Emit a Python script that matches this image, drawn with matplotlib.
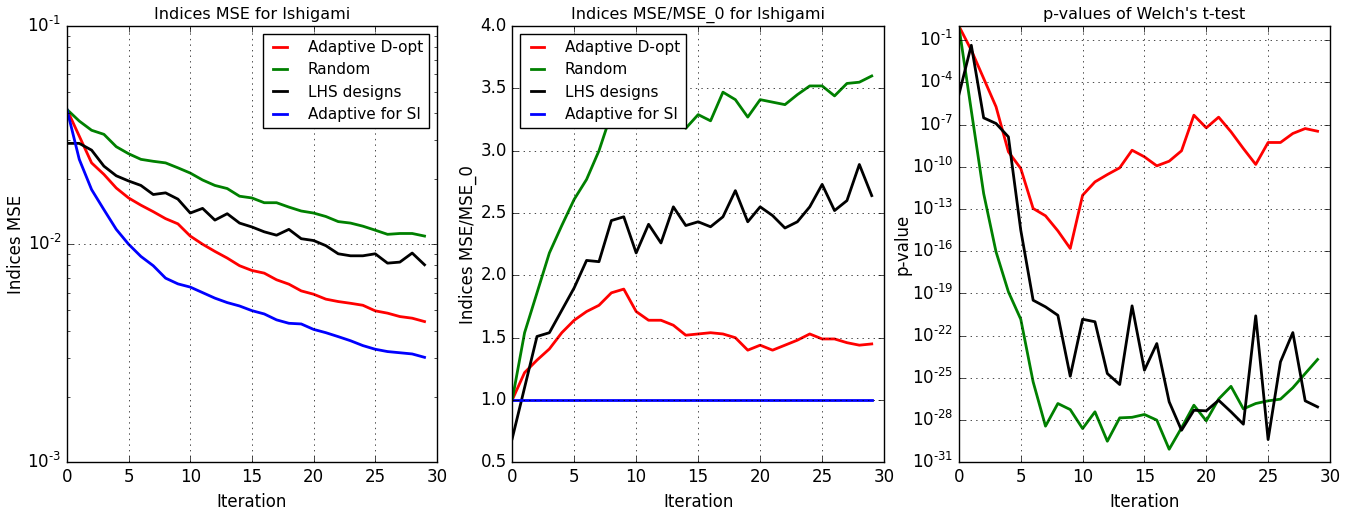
import numpy as np
import matplotlib
matplotlib.use('Agg')
import matplotlib.pyplot as plt
from matplotlib.ticker import NullLocator, FuncFormatter

# --- data ---
iterations = list(range(30))

mse_dopt = [0.0415, 0.0313, 0.0236, 0.0209, 0.0181, 0.0163, 0.0151, 0.0141, 0.0131, 0.0124,
            0.0109, 0.0100, 0.00927, 0.00864, 0.00797, 0.00758, 0.00737, 0.00687, 0.00656, 0.00611,
            0.00590, 0.00560, 0.00546, 0.00536, 0.00525, 0.00495, 0.00483, 0.00466, 0.00458, 0.00442]
mse_random = [0.0415, 0.0367, 0.0333, 0.0319, 0.0280, 0.0260, 0.0245, 0.0240, 0.0236, 0.0224,
              0.0212, 0.0197, 0.0186, 0.0180, 0.0166, 0.0163, 0.0155, 0.0155, 0.0148, 0.0142,
              0.0139, 0.0134, 0.0127, 0.0125, 0.0121, 0.0116, 0.0111, 0.0112, 0.0112, 0.0109]
mse_lhs = [0.0290, 0.0290, 0.0270, 0.0228, 0.0206, 0.0195, 0.0186, 0.0169, 0.0172, 0.0161,
           0.0139, 0.0146, 0.0129, 0.0138, 0.0125, 0.0120, 0.0114, 0.0110, 0.0117, 0.0106,
           0.0104, 0.00985, 0.00904, 0.00885, 0.00885, 0.00904, 0.00819, 0.00828, 0.00911, 0.00805]
mse_si = [0.0415, 0.0245, 0.0178, 0.0144, 0.0117, 0.0100, 0.00879, 0.00797, 0.00699, 0.00658,
          0.00636, 0.00600, 0.00566, 0.00540, 0.00521, 0.00496, 0.00479, 0.00450, 0.00434, 0.00431,
          0.00407, 0.00393, 0.00377, 0.00361, 0.00343, 0.00330, 0.00322, 0.00318, 0.00314, 0.00303]

ratio_dopt = [1.00, 1.22, 1.32, 1.41, 1.54, 1.64, 1.71, 1.76, 1.86, 1.89,
              1.71, 1.64, 1.64, 1.60, 1.52, 1.53, 1.54, 1.53, 1.50, 1.40,
              1.44, 1.40, 1.44, 1.48, 1.53, 1.49, 1.49, 1.46, 1.44, 1.45]
ratio_random = [1.00, 1.54, 1.86, 2.18, 2.40, 2.61, 2.77, 3.00, 3.30, 3.45,
                3.50, 3.40, 3.45, 3.35, 3.18, 3.29, 3.24, 3.47, 3.41, 3.27,
                3.41, 3.39, 3.37, 3.45, 3.52, 3.52, 3.44, 3.54, 3.55, 3.60]
ratio_lhs = [0.69, 1.10, 1.51, 1.54, 1.72, 1.90, 2.12, 2.11, 2.44, 2.47,
             2.18, 2.41, 2.26, 2.55, 2.40, 2.43, 2.39, 2.47, 2.68, 2.43,
             2.55, 2.48, 2.38, 2.43, 2.55, 2.73, 2.52, 2.60, 2.89, 2.64]
ratio_si = [1.0] * 30

# p-values guardados como expoentes log10
logp_dopt = [0.0, -1.71, -3.72, -5.73, -8.93, -10.12, -12.96, -13.48, -14.55, -15.80,
             -12.02, -11.07, -10.55, -10.07, -8.82, -9.29, -9.93, -9.60, -8.86, -6.33,
             -7.23, -6.47, -7.51, -8.70, -9.83, -8.27, -8.27, -7.63, -7.28, -7.47]
logp_random = [-0.05, -6.0, -11.9, -16.04, -18.88, -20.83, -25.28, -28.43, -26.82, -27.25,
               -28.6, -27.41, -29.5, -27.84, -27.8, -27.6, -28.0, -30.07, -28.55, -26.94,
               -28.05, -26.5, -25.6, -27.2, -26.82, -26.63, -26.51, -25.7, -24.69, -23.69]
logp_lhs = [-4.86, -1.36, -6.52, -6.92, -7.87, -14.5, -19.48, -19.95, -20.55, -24.88,
            -20.83, -21.01, -24.69, -25.47, -19.88, -24.45, -22.56, -26.7, -28.72, -27.3,
            -27.34, -26.59, -27.41, -28.29, -20.59, -29.38, -23.86, -21.78, -26.63, -27.06]

labels = ['Adaptive D-opt', 'Random', 'LHS designs', 'Adaptive for SI']
colors = ['red', 'green', 'black', 'blue']

plt.style.use('classic')
plt.rcParams['figure.facecolor'] = 'white'
plt.rcParams['savefig.facecolor'] = 'white'
plt.rcParams['lines.linewidth'] = 2
plt.rcParams['mathtext.fontset'] = 'dejavusans'
plt.rcParams['font.family'] = ['DejaVu Sans']

legend_kw = dict(fontsize=11, handlelength=1.5, handletextpad=1.05,
                 labelspacing=0.48, borderaxespad=0.5)
title_size = 11.5


def pow10_label(v, pos):
    # expoente com hifen curto, como no original
    e = int(round(np.log10(v)))
    sign = '\u2010' if e < 0 else ''
    return '$10^{%s%d}$' % (sign, abs(e))


fig = plt.figure(figsize=(13.55, 5.12), dpi=100)
bottom, height = 0.097, 0.852
ax1 = fig.add_axes([0.0494, bottom, 0.273, height])
ax2 = fig.add_axes([0.378, bottom, 0.2745, height])
ax3 = fig.add_axes([0.7077, bottom, 0.2738, height])

# Primeiro painel: MSE
for ys, lab, c in zip([mse_dopt, mse_random, mse_lhs, mse_si], labels, colors):
    ax1.plot(iterations, ys, color=c, label=lab)
ax1.set_yscale('log')
ax1.set_ylim(1e-3, 1e-1)
ax1.set_xlim(0, 30)
ax1.yaxis.set_major_formatter(FuncFormatter(pow10_label))
ax1.set_title('Indices MSE for Ishigami', fontsize=title_size)
ax1.set_xlabel('Iteration')
ax1.set_ylabel('Indices MSE')
ax1.yaxis.set_label_coords(-0.113, 0.5)
ax1.grid(True)
ax1.legend(loc='upper right', **legend_kw)

# Segundo painel: MSE relativo
for ys, lab, c in zip([ratio_dopt, ratio_random, ratio_lhs, ratio_si], labels, colors):
    ax2.plot(iterations, ys, color=c, label=lab)
ax2.set_ylim(0.5, 4.0)
ax2.set_xlim(0, 30)
ax2.set_title('Indices MSE/MSE_0 for Ishigami', fontsize=title_size)
ax2.set_xlabel('Iteration')
ax2.set_ylabel('Indices MSE/MSE_0')
ax2.yaxis.set_label_coords(-0.094, 0.5)
ax2.grid(True)
ax2.legend(loc='upper left', **legend_kw)

# Terceiro painel: p-values
for le, c in zip([logp_dopt, logp_random, logp_lhs], colors):
    ax3.plot(iterations, 10.0 ** np.array(le), color=c)
ax3.set_yscale('log')
ax3.set_ylim(1e-31, 1)
ax3.set_xlim(0, 30)
ax3.set_yticks([10.0 ** e for e in range(-31, 0, 3)])
ax3.yaxis.set_minor_locator(NullLocator())
ax3.yaxis.set_major_formatter(FuncFormatter(pow10_label))
ax3.set_title("p-values of Welch's t-test", fontsize=title_size)
ax3.set_xlabel('Iteration')
ax3.set_ylabel('p-value')
ax3.yaxis.set_label_coords(-0.127, 0.5)
ax3.grid(True)

fig.savefig('out.png', dpi=100)
